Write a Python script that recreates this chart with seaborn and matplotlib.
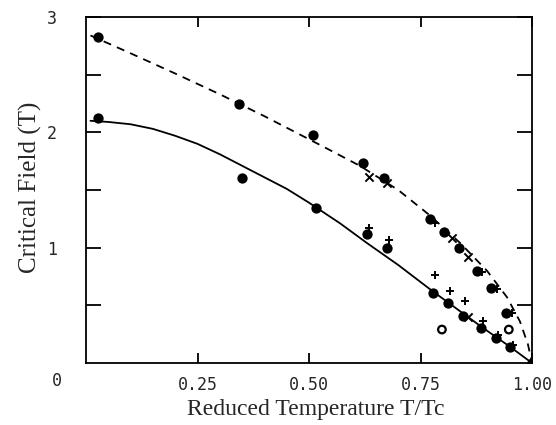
import numpy as np
import pandas as pd
import seaborn as sns
import matplotlib.pyplot as plt

# filled dots
dot_t = [0.027, 0.027, 0.343, 0.350, 0.509, 0.515, 0.621, 0.629, 0.669, 0.675, 0.771, 0.778,
         0.803, 0.812, 0.836, 0.846, 0.876, 0.886, 0.908, 0.919, 0.942, 0.951, 1.000]
dot_h = [2.83, 2.12, 2.25, 1.60, 1.98, 1.34, 1.73, 1.12, 1.60, 1.00, 1.25, 0.61,
         1.14, 0.52, 1.00, 0.41, 0.80, 0.30, 0.65, 0.22, 0.43, 0.14, 0.00]
# plus signs
plus_t = [0.635, 0.679, 0.783, 0.783, 0.816, 0.850, 0.888, 0.890, 0.922, 0.924, 0.955, 0.957]
plus_h = [1.17, 1.07, 1.21, 0.76, 0.62, 0.54, 0.79, 0.36, 0.64, 0.24, 0.43, 0.16]
# crosses
cross_t = [0.635, 0.675, 0.820, 0.856, 0.857]
cross_h = [1.61, 1.56, 1.08, 0.92, 0.40]
# open circles
open_t = [0.798, 0.948]
open_h = [0.29, 0.29]

# curves
solid_t = [0.01, 0.05, 0.10, 0.15, 0.20, 0.25, 0.30, 0.35, 0.40, 0.45, 0.50, 0.57,
           0.63, 0.70, 0.778, 0.81, 0.888, 0.951, 1.00]
solid_h = [2.10, 2.09, 2.07, 2.03, 1.97, 1.90, 1.81, 1.71, 1.61, 1.51, 1.39, 1.21,
           1.04, 0.85, 0.62, 0.53, 0.31, 0.14, 0.00]
dash_t = [0.01, 0.10, 0.20, 0.30, 0.40, 0.48, 0.54, 0.614, 0.70, 0.771, 0.839,
          0.899, 0.944, 0.973, 0.991, 1.00]
dash_h = [2.84, 2.685, 2.51, 2.33, 2.14, 1.98, 1.86, 1.71, 1.50, 1.28, 1.04,
          0.80, 0.57, 0.36, 0.16, 0.00]

xtick_vals = [0.25, 0.50, 0.75, 1.00]
xtick_labels = ['0.25', '0.50', '0.75', '1.00']
ytick_vals = [1, 2, 3]
ytick_labels = ['1', '2', '3']

sns.set_style('ticks')
plt.rcParams['font.family'] = ['DejaVu Sans']

fig = plt.figure(figsize=(5.56, 4.25), dpi=100)
ax = fig.add_axes([86/556, 1-363/425, 446/556, 346/425])

solid = pd.DataFrame({'t': solid_t, 'h': solid_h})
dash = pd.DataFrame({'t': dash_t, 'h': dash_h})
sns.lineplot(x='t', y='h', data=solid, ax=ax, color='black', lw=1.3, sort=False, estimator=None)
sns.lineplot(x='t', y='h', data=dash, ax=ax, color='black', lw=1.3, sort=False, estimator=None,
             linestyle=(0, (4.5, 3.5)))

sns.scatterplot(x=dot_t, y=dot_h, ax=ax, color='black', s=55, marker='o', edgecolor='black', linewidth=0, zorder=5)
sns.scatterplot(x=plus_t, y=plus_h, ax=ax, color='black', s=40, marker='+', linewidth=1.4, zorder=5)
sns.scatterplot(x=cross_t, y=cross_h, ax=ax, color='black', s=35, marker='x', linewidth=1.4, zorder=5)
ax.scatter(open_t, open_h, s=30, facecolors='none', edgecolors='black', linewidths=1.6, zorder=5)

ax.set(xlim=(0, 1.0), ylim=(0, 3.0), xlabel='', ylabel='')
ax.set_xticks(xtick_vals)
ax.set_xticklabels(xtick_labels, family='DejaVu Sans Mono', fontsize=12)
ax.set_yticks(ytick_vals)
ax.set_yticklabels(ytick_labels, family='DejaVu Sans Mono', fontsize=12)
ax.set_yticks([0.5, 1.5, 2.5], minor=True)
ax.tick_params(axis='both', which='both', direction='in', top=True, right=True, width=1.3, color='black')
ax.tick_params(axis='x', which='major', length=7, pad=9)
ax.tick_params(axis='y', which='both', length=11, pad=21)
for sp in ax.spines.values():
    sp.set_linewidth(1.3)
    sp.set_color('black')

ax.text(-0.065, -0.052, '0', transform=ax.transAxes, ha='center', va='center',
        family='DejaVu Sans Mono', fontsize=12)
fig.text(316/556, 1 - 410/425, 'Reduced Temperature T/Tc', ha='center', va='center',
         family='Liberation Serif', fontsize=17)
fig.text(30/556, 1 - 187/425, 'Critical Field (T)', ha='center', va='center', rotation=90,
         family='Liberation Serif', fontsize=18)

fig.savefig('out.png', dpi=100, facecolor='white')
